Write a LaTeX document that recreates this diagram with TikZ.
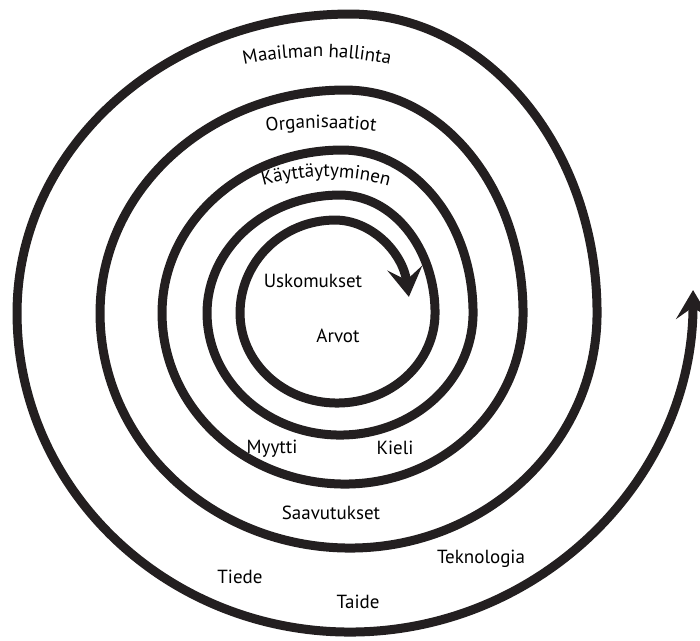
\documentclass[tikz,border=0pt]{standalone}
\usepackage{fontspec}
\newfontfamily\wordfont{PT Sans}
\usetikzlibrary{arrows.meta,decorations.text}

\begin{document}
\begin{tikzpicture}[x=1pt, y=1pt,
    spiral/.style={line width=9pt, draw={rgb,255:red,35;green,31;blue,32},
      {Stealth[length=29pt,width=35pt,inset=12pt]}-{Stealth[length=29pt,width=34pt,inset=12pt]}},
    word/.style={anchor=base, inner sep=0pt, font=\wordfont\fontsize{19}{21}\selectfont},
    bent/.style={decorate, decoration={text along path, text align=center,
      text={|\wordfont\fontsize{19}{21}\selectfont|#1}}}]
      \useasboundingbox (0,0) rectangle (700,640);

      \draw [spiral] (408.9,343.1)
        arc[start angle=10, end angle=90, x radius=75pt, y radius=93pt]
        arc[start angle=90, end angle=180, x radius=95pt, y radius=93pt]
        arc[start angle=180, end angle=270, x radius=97pt, y radius=90pt]
        arc[start angle=270, end angle=360, x radius=98pt, y radius=90pt]
        arc[start angle=0, end angle=90, x radius=95pt, y radius=118pt]
        arc[start angle=90, end angle=180, x radius=133pt, y radius=118pt]
        arc[start angle=180, end angle=270, x radius=133pt, y radius=122pt]
        arc[start angle=270, end angle=360, x radius=133pt, y radius=122pt]
        arc[start angle=0, end angle=90, x radius=131pt, y radius=163pt]
        arc[start angle=90, end angle=180, x radius=180pt, y radius=163pt]
        arc[start angle=180, end angle=270, x radius=183pt, y radius=171pt]
        arc[start angle=270, end angle=360, x radius=178pt, y radius=171pt]
        arc[start angle=0, end angle=90, x radius=178pt, y radius=223pt]
        arc[start angle=90, end angle=180, x radius=245pt, y radius=223pt]
        arc[start angle=180, end angle=270, x radius=250pt, y radius=235pt]
        arc[start angle=270, end angle=360, x radius=247pt, y radius=235pt]
        arc[start angle=0, end angle=90, x radius=247pt, y radius=299pt]
        arc[start angle=90, end angle=180, x radius=333pt, y radius=299pt]
        arc[start angle=180, end angle=270, x radius=333pt, y radius=319pt]
        arc[start angle=270, end angle=360, x radius=343pt, y radius=342pt];

      \path [shift={(317,233)}, bent={Maailman hallinta}]
        (110:350pt) arc[start angle=110, end angle=70, radius=350pt];
      \path [shift={(321,112)}, bent={Organisaatiot}]
        (105:400pt) arc[start angle=105, end angle=75, radius=400pt];
      \path [shift={(326,233)}, bent={Käyttäytyminen}]
        (122:230pt) arc[start angle=122, end angle=58, radius=230pt];

      \node [word] (uskomukset) at (313,352) {Uskomukset};
      \node [word] (arvot)      at (338,298) {Arvot};
      \node [word] (myytti)     at (272,187) {Myytti};
      \node [word] (kieli)      at (395,186) {Kieli};
      \node [word] (saavutukset) at (331,121) {Saavutukset};
      \node [word] (teknologia) at (481,77)  {Teknologia};
      \node [word] (tiede)      at (240,57)  {Tiede};
      \node [word] (taide)      at (358,32)  {Taide};
\end{tikzpicture}
\end{document}
